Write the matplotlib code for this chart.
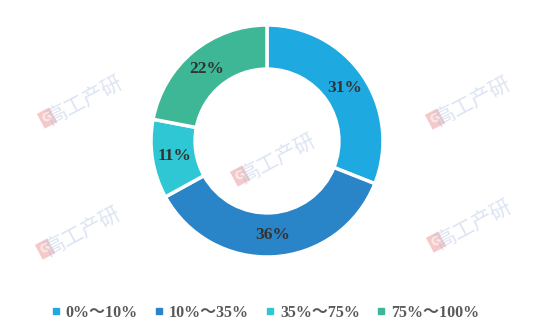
import matplotlib
matplotlib.use("Agg")
import matplotlib.pyplot as plt
from matplotlib.lines import Line2D
import numpy as np

# Data
labels = ["0%～10%", "10%～35%", "35%～75%", "75%～100%"]
values = [31, 36, 11, 22]
colors = ["#1fa9e1", "#2a84c8", "#2ec7d3", "#3db796"]

# watermark spots (pixels from top-left)
marks = [(77, 104), (465, 105), (270, 162), (75, 235), (466, 228)]

W, H = 540, 334
fig = plt.figure(figsize=(W / 100, H / 100), dpi=100)
ax = fig.add_axes([0, 0, 1, 1])

cx, cy, r = 267, H - 141, 116
wedges, _ = ax.pie(
    values, colors=colors, startangle=90, counterclock=False,
    center=(cx, cy), radius=r, frame=True,
    wedgeprops=dict(width=r * 0.38, edgecolor="white", linewidth=2.5),
)
ax.set_xlim(0, W)
ax.set_ylim(0, H)
ax.set_aspect("equal")
ax.axis("off")

serif = ["Liberation Serif", "Noto Sans CJK SC"]

# percentage labels at mid-ring
mid_r = r * 0.81
start = 90.0
total = sum(values)
for v in values:
    ang = start - 360.0 * v / total / 2
    start -= 360.0 * v / total
    x = cx + mid_r * np.cos(np.radians(ang))
    y = cy + mid_r * np.sin(np.radians(ang))
    ax.text(x, y, f"{v}%", ha="center", va="center", fontsize=12.5,
            fontweight="bold", color="#333333", family=serif)

# faint watermarks
for mx, my in marks:
    ax.text(mx - 30, H - my - 14, "G", ha="center", va="center", fontsize=9,
            fontweight="bold", color="white", rotation=28, alpha=0.6,
            bbox=dict(boxstyle="square,pad=0.15", fc="#e77a7a", ec="none", alpha=0.4))
    ax.text(mx + 8, H - my + 4, "高工产研", ha="center", va="center",
            fontsize=15, color="#a9bde0", alpha=0.4, rotation=28,
            family=["Noto Sans CJK SC", "DejaVu Sans"])

handles = [Line2D([], [], marker="s", linestyle="none", markersize=5,
                  markerfacecolor=c, markeredgecolor=c) for c in colors]
fig.legend(handles, labels, loc="center", bbox_to_anchor=(0.488, 1 - 313 / H),
           ncol=4, frameon=False, handletextpad=0.1, columnspacing=0.85,
           handlelength=1.0,
           prop=dict(family=serif, weight="bold", size=11.5))
for t in fig.legends[0].get_texts():
    t.set_color("#595959")

fig.savefig("out.png", dpi=100)
